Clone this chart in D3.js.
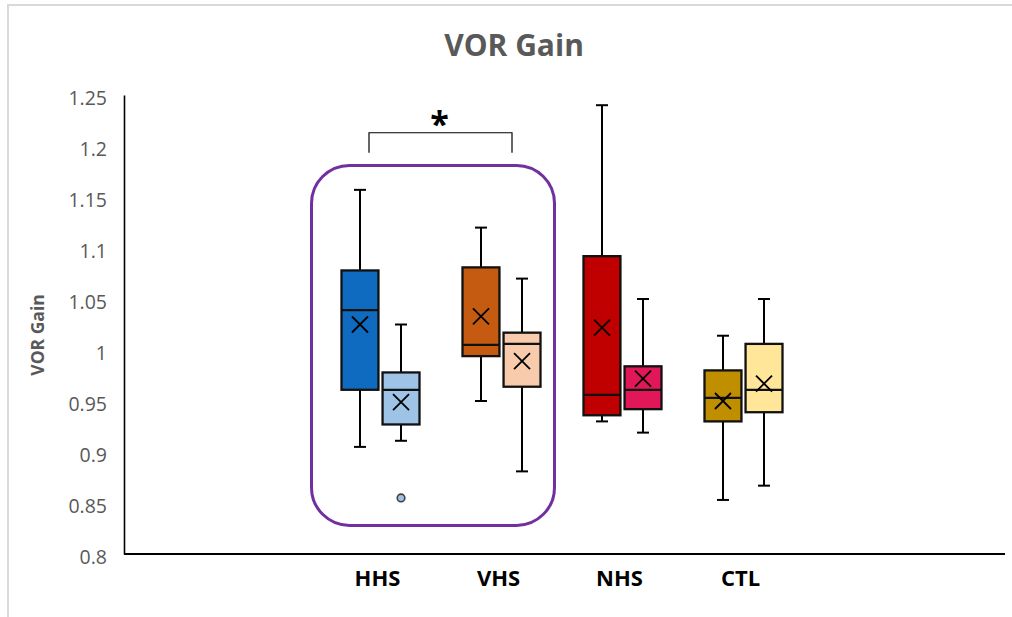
<!DOCTYPE html>
<html>
<head>
<meta charset="utf-8">
<script src="https://cdn.jsdelivr.net/npm/d3@7"></script>
<style>
  html, body { margin: 0; padding: 0; background: #fff; }
  svg { display: block; font-family: "Open Sans", sans-serif; }
</style>
</head>
<body>
<script>
// chart values
const categories = ['HHS', 'VHS', 'NHS', 'CTL'];
const seriesColors = [
  ['#0F6BBF', '#C55A11', '#C00000', '#BF8F00'],
  ['#9DC3E6', '#F8CBAD', '#E2175A', '#FFE699'],
];
// [first box of each group, second box of each group]
const whiskerLow = [[0.905, 0.950, 0.930, 0.853], [0.911, 0.881, 0.919, 0.867]];
const q1 = [[0.961, 0.994, 0.936, 0.930], [0.927, 0.964, 0.942, 0.939]];
const median = [[1.039, 1.005, 0.956, 0.953], [0.961, 1.006, 0.961, 0.961]];
const q3 = [[1.078, 1.081, 1.092, 0.980], [0.978, 1.017, 0.984, 1.006]];
const whiskerHigh = [[1.157, 1.120, 1.240, 1.014], [1.025, 1.070, 1.050, 1.050]];
const means = [[1.025, 1.033, 1.022, 0.950], [0.949, 0.989, 0.972, 0.967]];
const outliers = [{ cat: 'HHS', series: 1, value: 0.855 }];
const yTicks = [0.8, 0.85, 0.9, 0.95, 1, 1.05, 1.1, 1.15, 1.2, 1.25];
const significance = { from: 'HHS', to: 'VHS', level: 1.213, label: '*' };
const highlight = { from: 'HHS', to: 'VHS', top: 1.181, bottom: 0.828 };

const width = 1012;
const height = 617;

const svg = d3.select('body').append('svg')
  .attr('width', width)
  .attr('height', height)
  .attr('viewBox', [0, 0, width, height]);

// light chart-area frame, cut by the picture edge on right and bottom
svg.append('rect')
  .attr('x', 8).attr('y', 5)
  .attr('width', width + 20).attr('height', height + 20)
  .attr('fill', 'none')
  .attr('stroke', '#d9d9d9')
  .attr('stroke-width', 2);

const y = d3.scaleLinear().domain([0.8, 1.25]).range([554, 95]);
const x = d3.scaleBand().domain(categories).range([320, 804]);
const sub = d3.scaleBand().domain([0, 1]).range([-39, 39]).paddingInner(0.1);
const cx = (c) => x(c) + x.bandwidth() / 2;

// title
svg.append('text')
  .attr('x', 514).attr('y', 56)
  .attr('text-anchor', 'middle')
  .attr('font-size', 30)
  .attr('font-weight', 'bold')
  .attr('fill', '#595959')
  .text('VOR Gain');

// y axis
const yAxis = svg.append('g')
  .attr('transform', `translate(124,0)`)
  .call(d3.axisLeft(y).tickValues(yTicks).tickSize(0).tickPadding(17).tickFormat((d) => `${d}`));
yAxis.select('.domain').attr('stroke', '#000').attr('stroke-width', 1.6);
yAxis.selectAll('text')
  .attr('font-family', '"Open Sans", sans-serif')
  .attr('font-size', 19.5)
  .attr('fill', '#595959')
  .attr('dy', '0.5em');

svg.append('text')
  .attr('transform', 'translate(44,335) rotate(-90)')
  .attr('text-anchor', 'middle')
  .attr('font-size', 17.5)
  .attr('font-weight', 'bold')
  .attr('fill', '#595959')
  .text('VOR Gain');

// x axis line + category labels
svg.append('line')
  .attr('x1', 124).attr('x2', 1005)
  .attr('y1', y(0.8)).attr('y2', y(0.8))
  .attr('stroke', '#000')
  .attr('stroke-width', 2);

svg.append('g')
  .selectAll('text')
  .data(categories)
  .join('text')
  .attr('x', (d) => cx(d) - 3)
  .attr('y', 586)
  .attr('text-anchor', 'middle')
  .attr('font-size', 22)
  .attr('font-weight', 'bold')
  .attr('fill', '#000')
  .text((d) => d);

// boxes
const boxes = [];
[0, 1].forEach((s) => {
  categories.forEach((c, i) => {
    boxes.push({
      cat: c, series: s, color: seriesColors[s][i],
      lo: whiskerLow[s][i], q1: q1[s][i], med: median[s][i],
      q3: q3[s][i], hi: whiskerHigh[s][i], mean: means[s][i],
    });
  });
});

const g = svg.append('g')
  .selectAll('g')
  .data(boxes)
  .join('g')
  .attr('transform', (d) => `translate(${cx(d.cat) + sub(d.series)},0)`);

const bw = sub.bandwidth();
const mid = bw / 2;
const cap = 6;

// whiskers
g.append('line')
  .attr('x1', mid).attr('x2', mid)
  .attr('y1', (d) => y(d.hi)).attr('y2', (d) => y(d.q3))
  .attr('stroke', '#000').attr('stroke-width', 2);
g.append('line')
  .attr('x1', mid).attr('x2', mid)
  .attr('y1', (d) => y(d.q1)).attr('y2', (d) => y(d.lo))
  .attr('stroke', '#000').attr('stroke-width', 2);
g.append('line')
  .attr('x1', mid - cap).attr('x2', mid + cap)
  .attr('y1', (d) => y(d.hi)).attr('y2', (d) => y(d.hi))
  .attr('stroke', '#000').attr('stroke-width', 2);
g.append('line')
  .attr('x1', mid - cap).attr('x2', mid + cap)
  .attr('y1', (d) => y(d.lo)).attr('y2', (d) => y(d.lo))
  .attr('stroke', '#000').attr('stroke-width', 2);

g.append('rect')
  .attr('x', 0).attr('width', bw)
  .attr('y', (d) => y(d.q3))
  .attr('height', (d) => y(d.q1) - y(d.q3))
  .attr('fill', (d) => d.color)
  .attr('stroke', '#111')
  .attr('stroke-width', 2.3);

g.append('line')
  .attr('x1', 0).attr('x2', bw)
  .attr('y1', (d) => y(d.med)).attr('y2', (d) => y(d.med))
  .attr('stroke', '#111').attr('stroke-width', 2.2);

// mean markers
const m = 8;
g.append('path')
  .attr('d', (d) => {
    const yy = y(d.mean);
    return `M${mid - m},${yy - m}L${mid + m},${yy + m}M${mid - m},${yy + m}L${mid + m},${yy - m}`;
  })
  .attr('stroke', '#000')
  .attr('stroke-width', 1.8)
  .attr('fill', 'none');

// outliers
svg.append('g')
  .selectAll('circle')
  .data(outliers)
  .join('circle')
  .attr('cx', (d) => cx(d.cat) + sub(d.series) + mid)
  .attr('cy', (d) => y(d.value))
  .attr('r', 3.8)
  .attr('fill', seriesColors[1][0])
  .attr('stroke', '#404040')
  .attr('stroke-width', 1.6);

// highlight frame around HHS & VHS
const hx0 = cx(highlight.from) - 69;
const hx1 = cx(highlight.to) + 53;
svg.append('rect')
  .attr('x', hx0).attr('y', y(highlight.top))
  .attr('width', hx1 - hx0)
  .attr('height', y(highlight.bottom) - y(highlight.top))
  .attr('rx', 38).attr('ry', 38)
  .attr('fill', 'none')
  .attr('stroke', '#7030A0')
  .attr('stroke-width', 3);

// significance bracket
const bx0 = cx(significance.from) - 11.5;
const bx1 = cx(significance.to) + 10.5;
const by = y(significance.level);
svg.append('path')
  .attr('d', `M${bx0},${by + 20}V${by}H${bx1}V${by + 20}`)
  .attr('fill', 'none')
  .attr('stroke', '#000')
  .attr('stroke-width', 1.2);
svg.append('text')
  .attr('x', (bx0 + bx1) / 2 - 1)
  .attr('y', by + 3)
  .attr('text-anchor', 'middle')
  .attr('font-size', 34)
  .attr('font-weight', 'bold')
  .attr('fill', '#000')
  .text(significance.label);
</script>
</body>
</html>
